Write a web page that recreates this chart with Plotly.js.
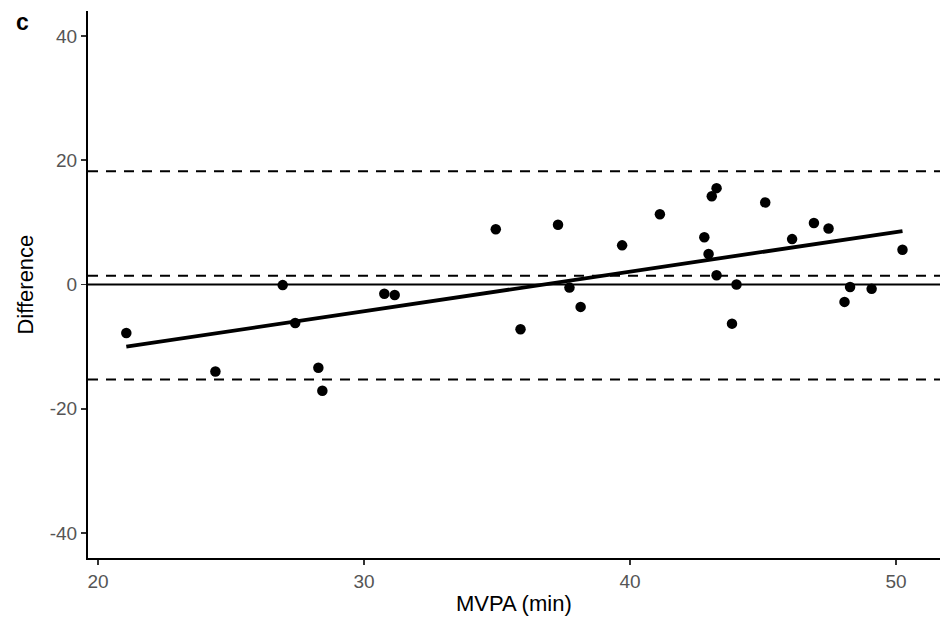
<!DOCTYPE html>
<html>
<head>
<meta charset="utf-8">
<script src="https://cdn.plot.ly/plotly-3.0.1.min.js"></script>
<style>html,body{margin:0;padding:0;background:#fff;}#chart{width:940px;height:618px;}</style>
</head>
<body>
<div id="chart"></div>
<script>
// Data (MVPA mean vs difference)
const mvpa = [21.06, 24.41, 26.94, 27.41, 28.28, 28.43, 30.76, 31.15, 34.95, 35.88,
              37.29, 37.72, 38.14, 39.70, 41.12, 42.79, 42.95, 43.07, 43.25, 43.25,
              43.83, 44.00, 45.08, 46.09, 46.91, 47.46, 48.06, 48.27, 49.08, 50.24];
const diff = [-7.8, -14.0, -0.1, -6.2, -13.4, -17.1, -1.5, -1.7, 8.9, -7.2,
              9.6, -0.5, -3.6, 6.3, 11.3, 7.6, 4.9, 14.2, 15.5, 1.5,
              -6.3, 0.0, 13.2, 7.3, 9.9, 9.0, -2.8, -0.4, -0.7, 5.6];
const fitX = [21.06, 50.24];
const fitY = [-10.0, 8.6];
const meanBias = 1.4;
const upperLoA = 18.2;
const lowerLoA = -15.3;
const zeroLine = 0;
const xTicks = [20, 30, 40, 50];
const yTicks = [-40, -20, 0, 20, 40];
const panelLabel = "c";
const xTitle = "MVPA (min)";
const yTitle = "Difference";

const traces = [
  {x: mvpa, y: diff, type: 'scatter', mode: 'markers',
   marker: {color: '#000', size: 10.5}, showlegend: false},
  {x: fitX, y: fitY, type: 'scatter', mode: 'lines',
   line: {color: '#000', width: 3.8}, showlegend: false}
];

function hline(y, dash, width) {
  return {type: 'line', xref: 'paper', x0: 0, x1: 1, yref: 'y', y0: y, y1: y,
          line: {color: '#000', width: width, dash: dash}, layer: 'below'};
}

const layout = {
  width: 940, height: 618,
  margin: {l: 88, r: 0, t: 11, b: 60},
  paper_bgcolor: '#fff', plot_bgcolor: '#fff',
  font: {family: 'Liberation Sans, Arial, sans-serif', color: '#000'},
  showlegend: false,
  xaxis: {
    range: [19.62, 51.65], tickvals: xTicks, ticktext: xTicks.map(String),
    showgrid: false, zeroline: false, showline: true, linecolor: '#000', linewidth: 2,
    ticks: 'outside', ticklen: 5, tickwidth: 1.5, tickcolor: '#333',
    tickfont: {size: 19, color: '#555'}
  },
  yaxis: {
    range: [-44, 44], tickvals: yTicks, ticktext: yTicks.map(String),
    showgrid: false, zeroline: false, showline: true, linecolor: '#000', linewidth: 2,
    ticks: 'outside', ticklen: 5, tickwidth: 1.5, tickcolor: '#333',
    tickfont: {size: 19, color: '#555'}
  },
  shapes: [
    hline(zeroLine, 'solid', 2),
    hline(upperLoA, '10px,8px', 2),
    hline(meanBias, '10px,8px', 2),
    hline(lowerLoA, '10px,8px', 2)
  ],
  annotations: [
    {text: '<b>' + panelLabel + '</b>', xref: 'paper', yref: 'paper', x: -0.087, y: 0.98,
     xanchor: 'left', yanchor: 'middle', showarrow: false, font: {size: 23, color: '#000'}},
    {text: xTitle, xref: 'paper', yref: 'paper', x: 0.5, y: -0.0823,
     xanchor: 'center', yanchor: 'middle', showarrow: false, font: {size: 22, color: '#000'}},
    {text: yTitle, xref: 'paper', yref: 'paper', x: -0.0739, y: 0.5, textangle: -90,
     xanchor: 'center', yanchor: 'middle', showarrow: false, font: {size: 22, color: '#000'}}
  ]
};

Plotly.newPlot('chart', traces, layout, {displayModeBar: false, staticPlot: true});
</script>
</body>
</html>
